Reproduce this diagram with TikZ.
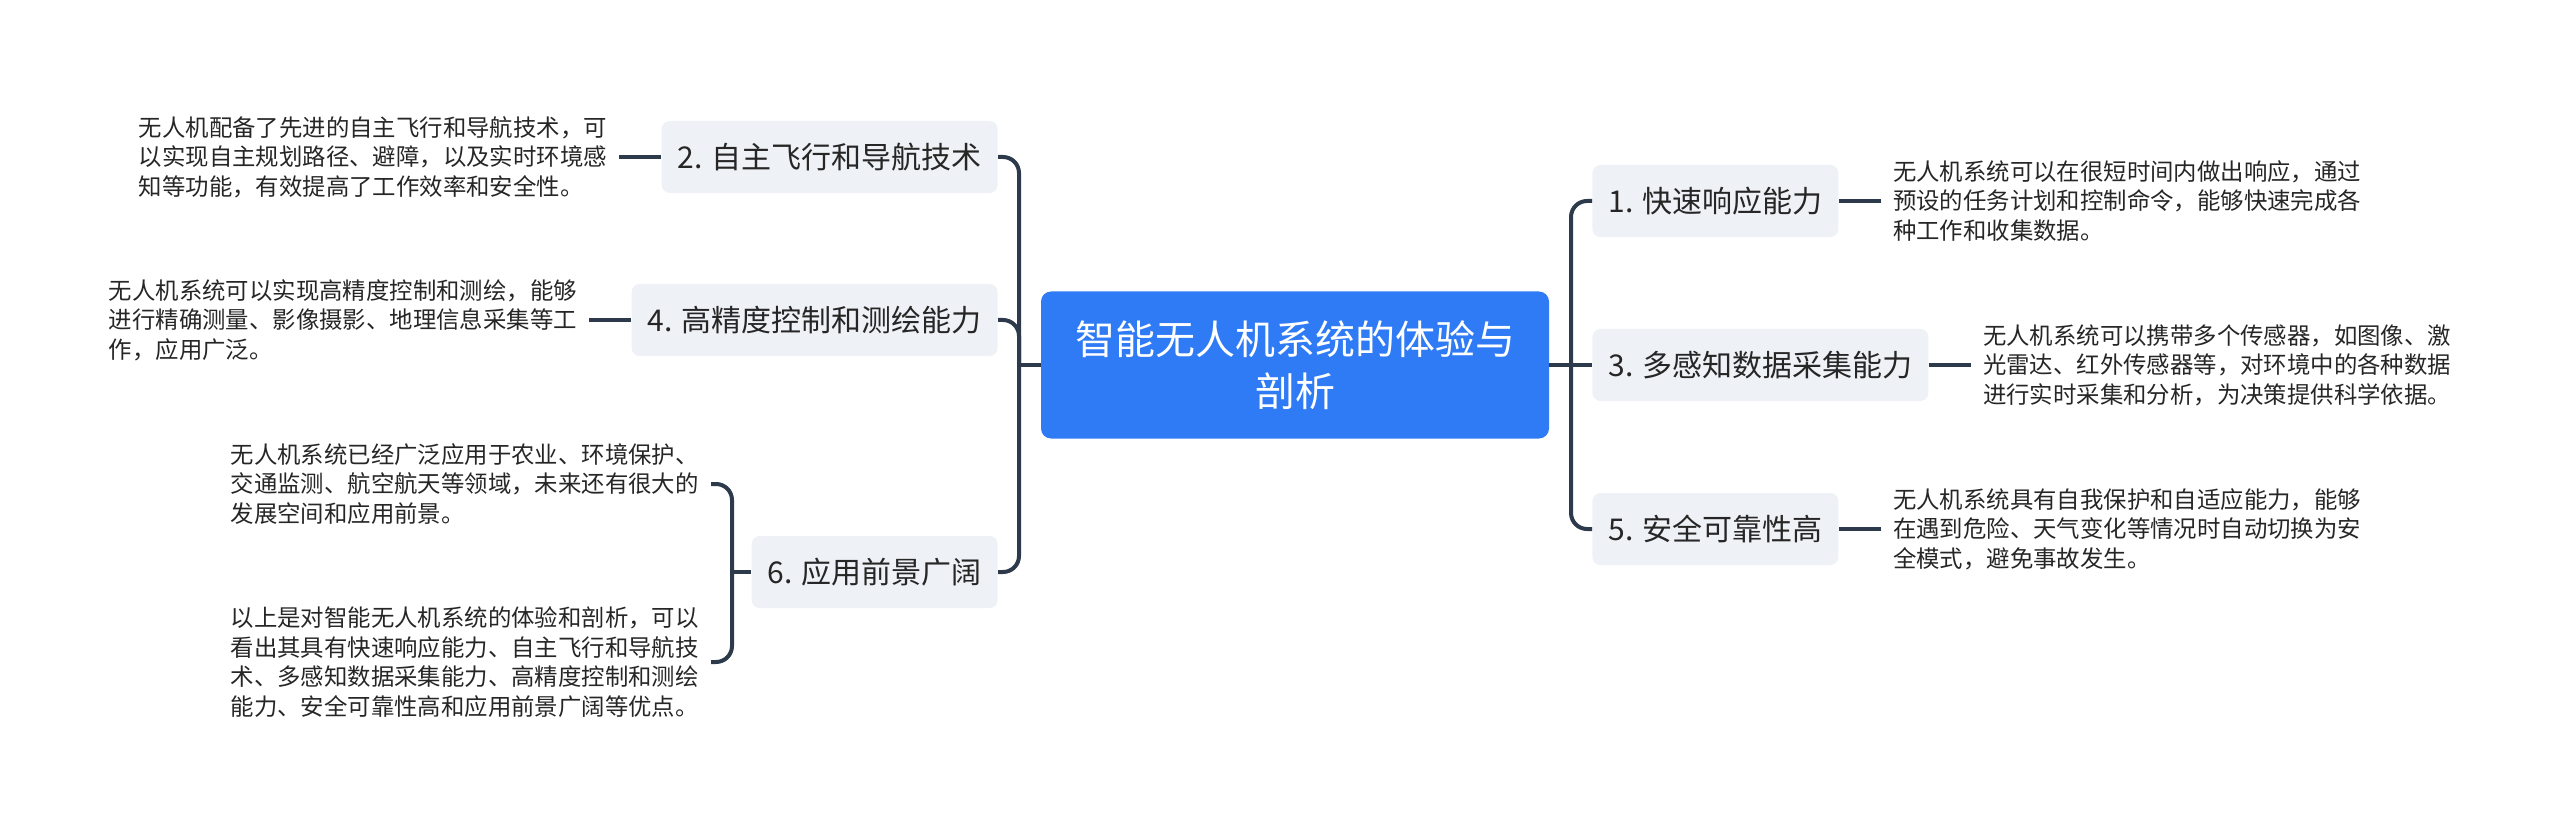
\documentclass[tikz,border=0pt]{standalone}
\usepackage{fontspec}
\newfontfamily\cjk{Noto Sans CJK SC}
\usetikzlibrary{positioning}
\definecolor{rootblue}{HTML}{2F7BF6}
\definecolor{boxgrey}{HTML}{EEF1F5}
\definecolor{linknavy}{HTML}{2C3A4B}
\definecolor{inkgrey}{HTML}{262626}
\tikzset{
  rootbox/.style={fill=rootblue, text=white, rounded corners=5pt, minimum width=254pt, minimum height=73.5pt, align=center, font=\cjk\fontsize{20}{26}\selectfont},
  topicbox/.style={fill=boxgrey, text=inkgrey, rounded corners=4pt, minimum height=36pt, inner xsep=8pt, font=\cjk\fontsize{15}{18}\selectfont},
  notetext/.style={text=inkgrey, align=left, inner xsep=6pt, inner ysep=0pt, font=\cjk\fontsize{11.7}{14.75}\selectfont},
  link/.style={draw=linknavy, line width=2pt, rounded corners=8pt},
}
\begin{document}
\begin{tikzpicture}[x=0.5pt,y=-0.5pt]
      \useasboundingbox (0,0) rectangle (2560,834);
%
      \node[rootbox] (root) at (1295,365) {智能无人机系统的体验与\\剖析};
%
      \node[topicbox,anchor=west] (fast) at (1592,201) {1. 快速响应能力};
      \node[topicbox,anchor=west] (sense) at (1592,365) {3. 多感知数据采集能力};
      \node[topicbox,anchor=west] (safe) at (1592,529) {5. 安全可靠性高};
%
      \node[topicbox,anchor=east] (nav) at (998,157) {2. 自主飞行和导航技术};
      \node[topicbox,anchor=east] (survey) at (998,320) {4. 高精度控制和测绘能力};
      \node[topicbox,anchor=east] (outlook) at (998,572) {6. 应用前景广阔};
%
      \node[notetext,right=21pt of fast] (fastnote) {无人机系统可以在很短时间内做出响应，通过\\预设的任务计划和控制命令，能够快速完成各\\种工作和收集数据。};
      \node[notetext,right=21pt of sense] (sensenote) {无人机系统可以携带多个传感器，如图像、激\\光雷达、红外传感器等，对环境中的各种数据\\进行实时采集和分析，为决策提供科学依据。};
      \node[notetext,right=21pt of safe] (safenote) {无人机系统具有自我保护和自适应能力，能够\\在遇到危险、天气变化等情况时自动切换为安\\全模式，避免事故发生。};
      \node[notetext,left=21pt of nav] (navnote) {无人机配备了先进的自主飞行和导航技术，可\\以实现自主规划路径、避障，以及实时环境感\\知等功能，有效提高了工作效率和安全性。};
      \node[notetext,left=21pt of survey] (surveynote) {无人机系统可以实现高精度控制和测绘，能够\\进行精确测量、影像摄影、地理信息采集等工\\作，应用广泛。};
      \node[notetext,anchor=east] (outlooknote) at (711,484) {无人机系统已经广泛应用于农业、环境保护、\\交通监测、航空航天等领域，未来还有很大的\\发展空间和应用前景。};
      \node[notetext,anchor=east] (summary) at (711,662) {以上是对智能无人机系统的体验和剖析，可以\\看出其具有快速响应能力、自主飞行和导航技\\术、多感知数据采集能力、高精度控制和测绘\\能力、安全可靠性高和应用前景广阔等优点。};
%
      \coordinate (rj) at (1571,365);
      \coordinate (lj) at (1019,365);
      \coordinate (oj) at (732,572);
%
      \draw[link] (root.east) -- (rj);
      \draw[link] (rj) |- (fast.west);
      \draw[link] (rj) -- (sense.west);
      \draw[link] (rj) |- (safe.west);
%
      \draw[link] (root.west) -- (lj);
      \draw[link] (lj) |- (nav.east);
      \draw[link] (lj) |- (survey.east);
      \draw[link] (lj) |- (outlook.east);
%
      \draw[link] (fast) -- (fastnote);
      \draw[link] (sense) -- (sensenote);
      \draw[link] (safe) -- (safenote);
      \draw[link] (nav) -- (navnote);
      \draw[link] (survey) -- (surveynote);
%
      \draw[link] (outlook.west) -- (oj);
      \draw[link] (oj) |- (outlooknote.east);
      \draw[link] (oj) |- (summary.east);
%
      \end{tikzpicture}
\end{document}
